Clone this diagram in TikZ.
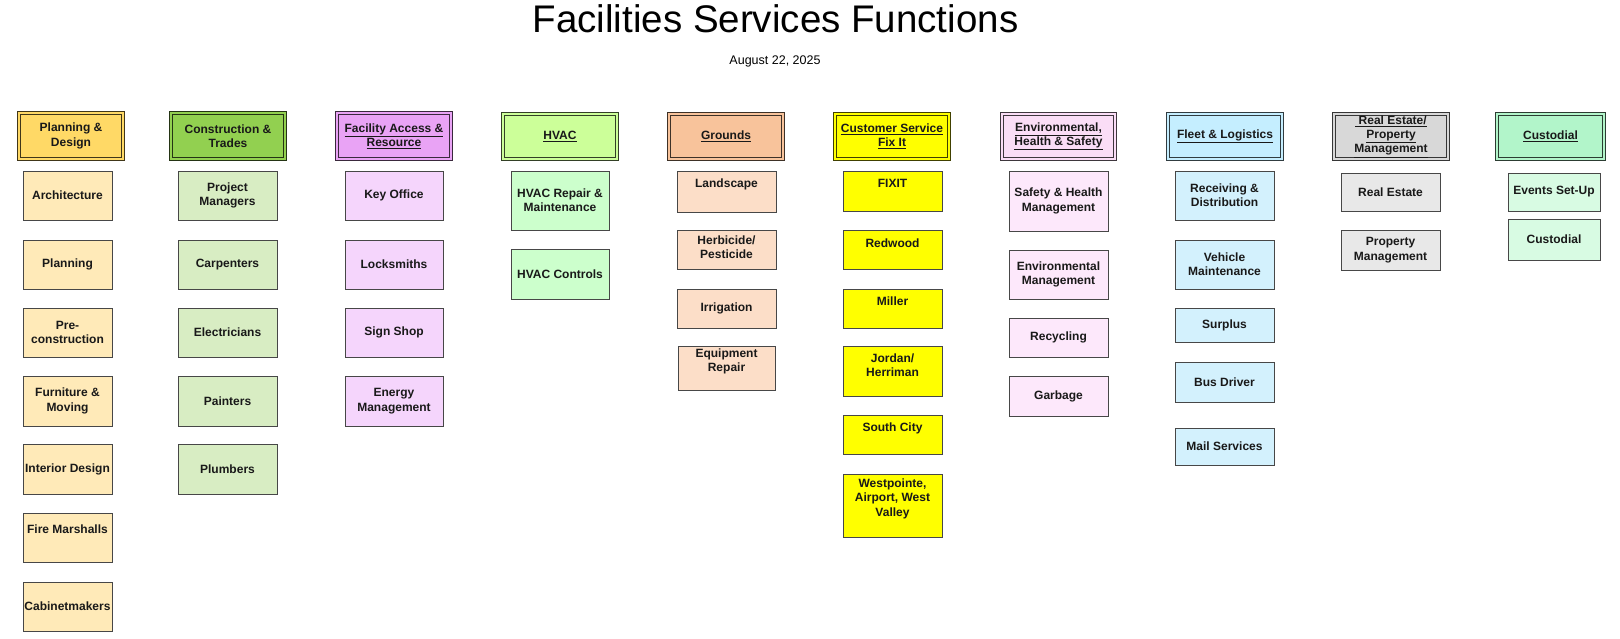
\documentclass[tikz,border=0pt]{standalone}
\usepackage{fontspec}
\setmainfont{Liberation Sans}
\usetikzlibrary{shadows}
\definecolor{pdH}{HTML}{FFD966}\definecolor{pdS}{HTML}{FFEAB8}
\definecolor{ctH}{HTML}{92D050}\definecolor{ctS}{HTML}{D8EDC3}
\definecolor{faH}{HTML}{E9A3F5}\definecolor{faS}{HTML}{F5D5FC}
\definecolor{hvH}{HTML}{CCFF99}\definecolor{hvS}{HTML}{CCFFCC}
\definecolor{grH}{HTML}{F8C39B}\definecolor{grS}{HTML}{FCDEC8}
\definecolor{csH}{HTML}{FFFF00}\definecolor{csS}{HTML}{FFFF00}
\definecolor{enH}{HTML}{FADDF6}\definecolor{enS}{HTML}{FDE8FB}
\definecolor{flH}{HTML}{C5EEFF}\definecolor{flS}{HTML}{D3F1FD}
\definecolor{reH}{HTML}{D8D8D8}\definecolor{reS}{HTML}{E8E8E8}
\definecolor{cuH}{HTML}{B2F5CA}\definecolor{cuS}{HTML}{D8FBE3}
\newcommand\boxfont{\bfseries\fontsize{12}{14.3}\selectfont}
\tikzset{
  shade box/.style={drop shadow={shadow xshift=1.3pt, shadow yshift=-1.3pt, fill=black!28, opacity=1}},
  sub/.style={draw=black!72, line width=0.8pt, fill=#1, inner sep=1pt, align=center,
    font=\boxfont, text=black!90, shade box},
  hdr/.style={draw=#1!25!black, line width=1.2pt, double=#1, double distance=1.5pt, fill=#1,
    inner sep=1pt, align=center, font=\boxfont, text=black!90, shade box},
  subtext/.style={inner sep=0pt, align=center, font=\boxfont, text=black!90, anchor=north}
}
\newcommand\cell[7]{\node[#2, minimum width={#5-#3}, minimum height={#6-#4}] (#1) at ({(#3+#5)/2},{(#4+#6)/2}) {#7};}
\newcommand\celltop[8]{\node[#2, minimum width={#5-#3}, minimum height={#6-#4}] (#1) at ({(#3+#5)/2},{(#4+#6)/2}) {};
  \node[subtext, yshift={-#7pt}] (#1-t) at (#1.north) {#8};}
\newcommand\head[7]{\node[#2, minimum width={#5-#3-3.9}, minimum height={#6-#4-3.9}] (#1) at ({(#3+#5)/2},{(#4+#6)/2}) {#7};}
\newcommand\ul[1]{\underline{#1}}
\begin{document}
\begin{tikzpicture}[x=1pt,y=-1pt]
\useasboundingbox (0,0) rectangle (1620,638);
\node[anchor=base, inner sep=0pt, font=\fontsize{38.5}{44}\selectfont] (title) at (775.5,32) {Facilities Services Functions};
\node[anchor=base, inner sep=0pt, font=\fontsize{12.5}{15}\selectfont] (date) at (775,64) {August 22, 2025};

% headers
\head{h1}{hdr=pdH}{17}{111}{125}{161}{Planning \&\\Design}
\head{h2}{hdr=ctH}{169}{111}{287}{161}{Construction \&\\Trades}
\head{h3}{hdr=faH}{335}{111}{453}{161}{\ul{Facility Access \&}\\\ul{Resource}}
\head{h4}{hdr=hvH}{501}{112}{619}{161}{\ul{HVAC}}
\head{h5}{hdr=grH}{667}{112}{785}{161}{\ul{Grounds}}
\head{h6}{hdr=csH}{833}{112}{951}{161}{\ul{Customer Service}\\\ul{Fix It}}
\head{h7}{hdr=enH}{1000}{112}{1117}{161}{\ul{Environmental,}\\\ul{Health \& Safety}}
\head{h8}{hdr=flH}{1166}{112}{1284}{161}{\ul{Fleet \& Logistics}}
\head{h9}{hdr=reH}{1332}{112}{1450}{161}{\ul{\ Real Estate/}\\\ul{Property}\\\ul{Management}}
\head{h10}{hdr=cuH}{1495}{112}{1606}{161}{\ul{Custodial}}

% column 1
\cell{a1}{sub=pdS}{23}{171}{112}{220}{Architecture}
\cell{a2}{sub=pdS}{23}{240}{112}{289}{Planning}
\cell{a3}{sub=pdS}{23}{308}{112}{357}{Pre-\\construction}
\cell{a4}{sub=pdS}{23}{376}{112}{426}{Furniture \&\\Moving}
\cell{a5}{sub=pdS}{23}{444}{112}{494}{Interior Design}
\celltop{a6}{sub=pdS}{23}{513}{112}{562}{12}{Fire Marshalls}
\cell{a7}{sub=pdS}{23}{582}{112}{631}{Cabinetmakers}

% column 2
\cell{b1}{sub=ctS}{178}{171}{277}{220}{Project\\Managers}
\cell{b2}{sub=ctS}{178}{240}{277}{289}{Carpenters}
\cell{b3}{sub=ctS}{178}{308}{277}{357}{Electricians}
\cell{b4}{sub=ctS}{178}{376}{277}{426}{Painters}
\cell{b5}{sub=ctS}{178}{444}{277}{494}{Plumbers}

% column 3
\cell{c1}{sub=faS}{345}{171}{443}{220}{Key Office}
\cell{c2}{sub=faS}{345}{240}{443}{289}{Locksmiths}
\cell{c3}{sub=faS}{345}{308}{443}{357}{Sign Shop}
\cell{c4}{sub=faS}{345}{376}{443}{426}{Energy\\Management}

% column 4
\cell{d1}{sub=hvS}{511}{171}{609}{230}{HVAC Repair \&\\Maintenance}
\cell{d2}{sub=hvS}{511}{249}{609}{299}{HVAC Controls}

% column 5
\celltop{e1}{sub=grS}{677}{171}{776}{212}{8}{Landscape}
\celltop{e2}{sub=grS}{677}{230}{776}{269}{6}{Herbicide/\\Pesticide}
\cell{e3}{sub=grS}{677}{289}{776}{328}{Irrigation}
\celltop{e4}{sub=grS}{678}{346}{775}{390}{3}{Equipment\\Repair}

% column 6
\celltop{f1}{sub=csS}{843}{171}{942}{211}{8}{FIXIT}
\celltop{f2}{sub=csS}{843}{230}{942}{269}{9}{Redwood}
\celltop{f3}{sub=csS}{843}{289}{942}{328}{8}{Miller}
\celltop{f4}{sub=csS}{843}{346}{942}{396}{8}{Jordan/\\Herriman}
\celltop{f5}{sub=csS}{843}{415}{942}{454}{8}{South City}
\celltop{f6}{sub=csS}{843}{474}{942}{537}{5}{Westpointe,\\Airport, West\\Valley}

% column 7
\cell{g1}{sub=enS}{1009}{171}{1108}{231}{Safety \& Health\\Management}
\cell{g2}{sub=enS}{1009}{250}{1108}{299}{Environmental\\Management}
\cell{g3}{sub=enS}{1009}{318}{1108}{357}{Recycling}
\cell{g4}{sub=enS}{1009}{376}{1108}{416}{Garbage}

% column 8
\cell{k1}{sub=flS}{1175}{171}{1274}{220}{Receiving \&\\Distribution}
\cell{k2}{sub=flS}{1175}{240}{1274}{289}{Vehicle\\Maintenance}
\cell{k3}{sub=flS}{1175}{308}{1274}{342}{Surplus}
\cell{k4}{sub=flS}{1175}{362}{1274}{402}{Bus Driver}
\cell{k5}{sub=flS}{1175}{428}{1274}{465}{Mail Services}

% column 9
\cell{m1}{sub=reS}{1341}{173}{1440}{211}{Real Estate}
\cell{m2}{sub=reS}{1341}{230}{1440}{270}{Property\\Management}

% column 10
\cell{n1}{sub=cuS}{1508}{173}{1600}{211}{Events Set-Up}
\cell{n2}{sub=cuS}{1508}{219}{1600}{260}{Custodial}
\end{tikzpicture}
\end{document}
